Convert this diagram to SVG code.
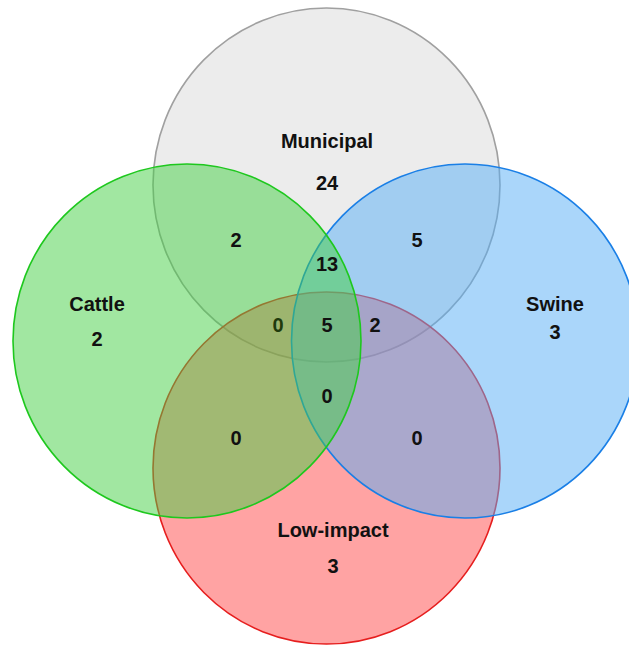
<svg xmlns="http://www.w3.org/2000/svg" width="629" height="645" viewBox="0 0 629 645">
<style>
.c{stroke-width:1.6}
.t{font-family:"Liberation Sans",Arial,sans-serif;font-weight:bold;font-size:20px;fill:#111;text-anchor:middle}
</style>
<rect width="629" height="645" fill="#fff"/>
<g id="municipal"><ellipse class="c" cx="326.5" cy="185" rx="173.5" ry="177" fill="#d9d9d9" fill-opacity="0.5" stroke="#a0a0a0"/></g>
<g id="low-impact"><ellipse class="c" cx="326.5" cy="468" rx="173.5" ry="176" fill="#ff4747" fill-opacity="0.5" stroke="#e61e1e"/></g>
<g id="swine"><ellipse class="c" cx="465" cy="341" rx="173.5" ry="177" fill="#55adf5" fill-opacity="0.5" stroke="#1a7fe6"/></g>
<g id="cattle"><ellipse class="c" cx="187" cy="341" rx="174" ry="177" fill="#44d044" fill-opacity="0.5" stroke="#1ec81e"/></g>
<g id="labels">
<text class="t" x="327" y="148">Municipal</text>
<text class="t" x="327" y="190">24</text>
<text class="t" x="97" y="311">Cattle</text>
<text class="t" x="97" y="346">2</text>
<text class="t" x="555" y="311">Swine</text>
<text class="t" x="555" y="339">3</text>
<text class="t" x="333" y="537">Low-impact</text>
<text class="t" x="333" y="573">3</text>
<text class="t" x="236" y="247">2</text>
<text class="t" x="327" y="271">13</text>
<text class="t" x="417" y="247">5</text>
<text class="t" x="278" y="332" style="fill:#1f3a0c">0</text>
<text class="t" x="327" y="332">5</text>
<text class="t" x="375" y="332">2</text>
<text class="t" x="327" y="403">0</text>
<text class="t" x="236" y="445">0</text>
<text class="t" x="417" y="445">0</text>
</g>
</svg>
